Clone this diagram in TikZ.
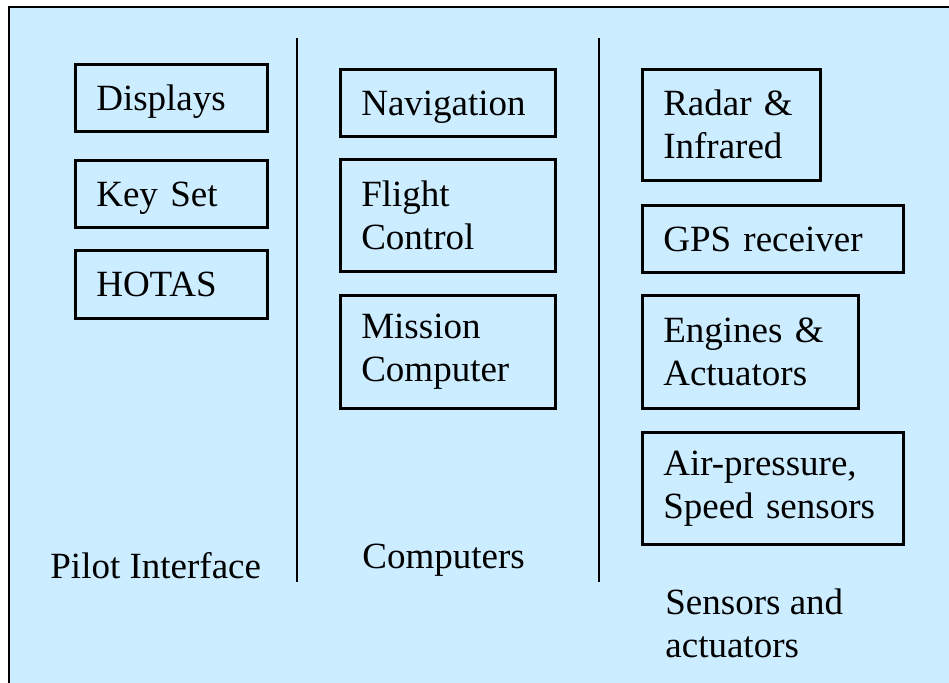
\documentclass[tikz,border=0pt]{standalone}
\usepackage{fontspec}
\setmainfont{Liberation Serif}
\definecolor{panelblue}{HTML}{CCECFF}

\tikzset{
  blk/.style={draw,line width=1.3pt,anchor=north west,align=left,
    inner xsep=10.5pt,inner ysep=0pt},
  oneline/.style={blk,text depth=0pt},
  lbl/.style={inner sep=0pt,align=left}
}

\begin{document}
\begin{tikzpicture}[x=0.5pt,y=-0.5pt,font=\fontsize{18.5}{21.5}\selectfont]
\useasboundingbox (0,0) rectangle (949,682);
\clip (0,0) rectangle (949,682);
\fill[white] (0,0) rectangle (949,682);
\draw[fill=panelblue,line width=1pt] (9,7) rectangle (990,720);

% dividers
\draw[line width=1.3pt] (297,38) -- (297,582);
\draw[line width=1.3pt] (599,38) -- (599,582);

% pilot interface
\node[oneline,text width=75pt,minimum height=33.5pt] (disp) at (74,63) {Displays};
\node[oneline,text width=75pt,minimum height=33.5pt] (keys) at (74,159) {Key Set};
\node[oneline,text width=75pt,minimum height=34pt] (hotas) at (74,249) {HOTAS};
\node[lbl,anchor=base west] (pilot) at (50,578) {Pilot Interface};

% computers
\node[oneline,text width=86.5pt,minimum height=33.5pt] (nav) at (339,68) {Navigation};
\node[blk,text width=86.5pt,minimum height=56pt] (fc) at (339,158) {Flight\\Control};
\node[blk,text width=86.5pt,minimum height=56.5pt] (mc) at (339,294) {Mission\\Computer};
\node[lbl,anchor=base west] (comp) at (362,568) {Computers};

% sensors and actuators
\node[blk,text width=68pt,minimum height=55.5pt] (radar) at (641,68) {Radar \&\\Infrared};
\node[oneline,text width=109.5pt,minimum height=33.5pt] (gps) at (641,204) {GPS receiver};
\node[blk,text width=87pt,minimum height=56.5pt] (eng) at (641,294) {Engines \&\\Actuators};
\node[blk,text width=109.5pt,minimum height=56pt] (air) at (641,431) {Air-pressure,\\Speed sensors};
\node[lbl,anchor=north west] (sens) at (665,588) {Sensors and\\actuators};
\end{tikzpicture}
\end{document}
